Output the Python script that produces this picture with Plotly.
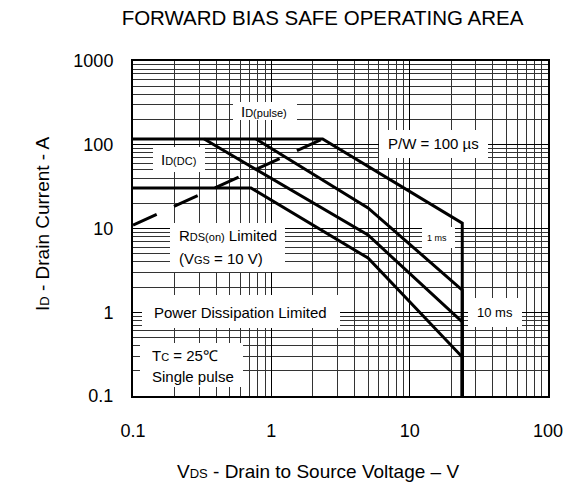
import plotly.graph_objects as go

# ---------------- data ----------------
vds_100us = [0.1, 2.35, 24, 24]
id_100us = [117, 117, 11.6, 0.1]

vds_1ms = [0.775, 5, 24, 24]
id_1ms = [117, 17.6, 1.84, 0.1]

vds_10ms = [0.327, 5, 24, 24]
id_10ms = [117, 8.36, 0.765, 0.1]

vds_dc = [0.1, 0.713, 5, 24, 24]
id_dc = [30.5, 30.5, 4.44, 0.292, 0.1]

vds_rds = [0.1, 2.35]
id_rds = [11, 117]

x_tick_vals = [0.1, 1, 10, 100]
x_tick_text = ["0.1", "1", "10", "100"]
y_tick_vals = [0.1, 1, 10, 100, 1000]
y_tick_text = ["0.1", "1", "10", "100", "1000"]

# ---------------- layout geometry ----------------
W, H = 568, 484
L, R, T, B = 133, 548, 61, 396
FONT = "Liberation Sans, Arial, sans-serif"


def px(x):
    return (x - L) / (R - L)


def py(y):
    return (B - y) / (B - T)


fig = go.Figure()

solid = dict(color="black", width=3)
for xs, ys in [(vds_100us, id_100us), (vds_1ms, id_1ms),
               (vds_10ms, id_10ms), (vds_dc, id_dc)]:
    fig.add_trace(go.Scatter(x=xs, y=ys, mode="lines", line=solid,
                             showlegend=False, hoverinfo="skip"))
fig.add_trace(go.Scatter(x=vds_rds, y=id_rds, mode="lines",
                         line=dict(color="black", width=3, dash="26px,19px"),
                         showlegend=False, hoverinfo="skip"))

# white label boxes (they do not overlap any curve)
boxes = [
    (233, 297, 102, 120),   # ID(pulse)
    (153, 205, 147, 172),   # ID(DC)
    (379, 488, 130, 158),   # P/W
    (170, 285, 223, 272),   # RDS(on)
    (422, 455, 227, 248),   # 1 ms
    (142, 340, 295, 328),   # Power dissipation
    (468, 522, 298, 327),   # 10 ms
    (140, 243, 343, 387),   # Tc / single pulse
]
for x0, x1, y0, y1 in boxes:
    fig.add_shape(type="rect", xref="paper", yref="paper",
                  x0=px(x0), x1=px(x1), y0=py(y1), y1=py(y0),
                  fillcolor="white", line=dict(width=0), layer="above")

SM = '<span style="font-size:11px">{}</span>'


def ann(text, x, y, size=15, xanchor="center"):
    fig.add_annotation(text=text, xref="paper", yref="paper",
                       x=px(x), y=py(y), xanchor=xanchor, yanchor="middle",
                       showarrow=False, font=dict(family=FONT, size=size, color="black"))


ann("I" + SM.format("D(pulse)"), 264, 111)
ann("I" + SM.format("D(DC)"), 178, 159)
ann("P/W = 100 µs", 433, 143)
ann("R" + SM.format("DS(on)") + " Limited", 177, 235, xanchor="left")
ann("(V" + SM.format("GS") + " = 10 V)", 177, 258, xanchor="left")
ann("1 ms", 437, 238, size=9)
ann("Power Dissipation Limited", 240, 312)
ann("10 ms", 495, 312, size=13)
ann("T" + SM.format("C") + " = 25℃", 150, 355, xanchor="left")
ann("Single pulse", 150, 376, xanchor="left")

# axis titles
fig.add_annotation(text="V" + '<span style="font-size:13px">DS</span>' + " - Drain to Source Voltage – V",
                   xref="paper", yref="paper", x=px(318), y=py(471),
                   xanchor="center", yanchor="middle", showarrow=False,
                   font=dict(family=FONT, size=19, color="black"))
fig.add_annotation(text="I" + '<span style="font-size:13px">D</span>' + " - Drain Current - A",
                   xref="paper", yref="paper", x=px(42), y=py(224),
                   xanchor="center", yanchor="middle", showarrow=False, textangle=-90,
                   font=dict(family=FONT, size=19, color="black"))

minor_x = [k * 10 ** d for d in (-1, 0, 1) for k in range(2, 10)]
minor_y = [k * 10 ** d for d in (-1, 0, 1, 2) for k in range(2, 10)]

axis_common = dict(type="log", showline=True, mirror=True, linecolor="black", linewidth=2,
                   showgrid=True, gridcolor="black", gridwidth=1, ticks="",
                   zeroline=False, automargin=False,
                   tickfont=dict(family=FONT, size=18, color="black"))

fig.update_xaxes(range=[-1, 2], tickvals=x_tick_vals, ticktext=x_tick_text,
                 ticklabelstandoff=17,
                 minor=dict(tickvals=minor_x, showgrid=True, gridcolor="#333333", gridwidth=1),
                 **axis_common)
fig.update_yaxes(range=[-1, 3], tickvals=y_tick_vals, ticktext=y_tick_text,
                 ticklabelstandoff=14,
                 minor=dict(tickvals=minor_y, showgrid=True, gridcolor="#333333", gridwidth=1),
                 **axis_common)

fig.update_layout(
    width=W, height=H, autosize=False,
    margin=dict(l=L, r=W - R, t=T, b=H - B, autoexpand=False),
    paper_bgcolor="white", plot_bgcolor="white",
    title=dict(text="FORWARD BIAS SAFE OPERATING AREA", xref="container", yref="container",
               x=322.5 / W, y=1 - 17.5 / H, xanchor="center", yanchor="middle",
               font=dict(family=FONT, size=20.5, color="black")),
)

fig.write_html("out.html", config={"displayModeBar": False, "responsive": False},
               post_script="document.body.style.margin='0';")
